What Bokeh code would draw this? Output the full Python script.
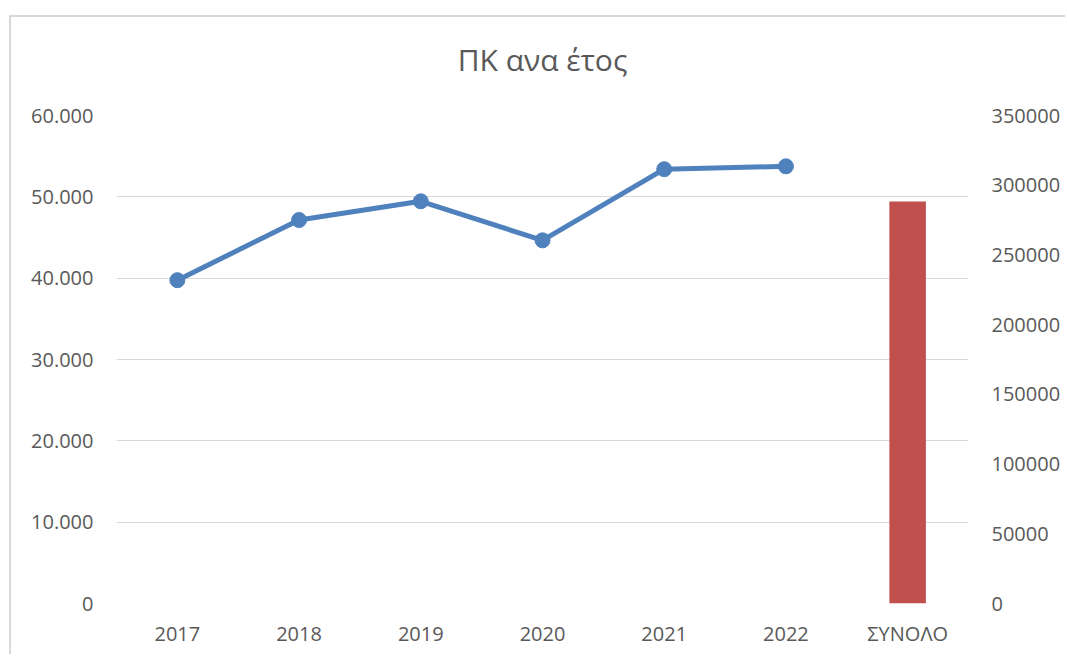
from bokeh.plotting import figure
from bokeh.models import (FactorRange, Range1d, LinearAxis, FixedTicker,
                          CustomJSTickFormatter, ColumnDataSource)
from bokeh.embed import file_html
from bokeh.resources import INLINE

categories = ["2017", "2018", "2019", "2020", "2021", "2022", "ΣΥΝΟΛΟ"]
years = ["2017", "2018", "2019", "2020", "2021", "2022"]
yearly_values = [39750, 47150, 49450, 44650, 53400, 53750]
total_label = ["ΣΥΝΟΛΟ"]
total_value = [288300]
left_ticks = [0, 10000, 20000, 30000, 40000, 50000, 60000]
right_ticks = [0, 50000, 100000, 150000, 200000, 250000, 300000, 350000]

FONT = "Open Sans"
TXT = "#595959"
GRID = "#d9d9d9"

p = figure(width=1065, height=654, x_range=FactorRange(*categories),
           y_range=Range1d(0, 60000), output_backend="svg",
           toolbar_location=None, title="ΠΚ ανα έτος",
           min_border_left=116, min_border_right=97,
           min_border_top=114, min_border_bottom=51)
p.extra_y_ranges = {"right": Range1d(0, 350000)}

# light chart-area border on the left and top edges, drawn by the page background
p.border_fill_color = None
p.background_fill_color = None
p.styles = {"background": "linear-gradient(#d9d9d9, #d9d9d9) 9px 15px / 2px 100% no-repeat, "
                          "linear-gradient(#d9d9d9, #d9d9d9) 9px 15px / 100% 2px no-repeat, "
                          "#ffffff"}

p.title.align = "center"
p.title.text_font = FONT
p.title.text_font_size = "30px"
p.title.text_font_style = "normal"
p.title.text_color = TXT
p.title.standoff = 72

p.outline_line_color = None

p.xgrid.grid_line_color = None
p.ygrid.grid_line_color = GRID
p.ygrid.grid_line_width = 1
p.ygrid.ticker = FixedTicker(ticks=left_ticks)

# left axis
yax = p.yaxis[0]
yax.ticker = FixedTicker(ticks=left_ticks)
yax.formatter = CustomJSTickFormatter(
    code='return tick.toFixed(0).replace(/\\B(?=(\\d{3})+(?!\\d))/g, ".");')
yax.axis_line_color = None
yax.major_tick_line_color = None
yax.minor_tick_line_color = None
yax.major_label_text_font = FONT
yax.major_label_text_font_size = "20px"
yax.major_label_text_color = TXT
yax.major_label_standoff = 17

# right axis
rax = LinearAxis(y_range_name="right", ticker=FixedTicker(ticks=right_ticks),
                 formatter=CustomJSTickFormatter(code="return tick.toFixed(0);"))
rax.axis_line_color = None
rax.major_tick_line_color = None
rax.minor_tick_line_color = None
rax.major_label_text_font = FONT
rax.major_label_text_font_size = "20px"
rax.major_label_text_color = TXT
rax.major_label_standoff = 17
p.add_layout(rax, "right")

# bottom axis
xax = p.xaxis[0]
xax.axis_line_color = None
xax.major_tick_line_color = None
xax.minor_tick_line_color = None
xax.major_label_text_font = FONT
xax.major_label_text_font_size = "20px"
xax.major_label_text_color = TXT
xax.major_label_standoff = 10

line_src = ColumnDataSource(dict(x=years, y=yearly_values))
p.line("x", "y", source=line_src, line_color="#4F81BD", line_width=5)
p.scatter("x", "y", source=line_src, size=15, fill_color="#4F81BD",
          line_color="#4F81BD")

bar_src = ColumnDataSource(dict(x=total_label, top=total_value))
p.vbar(x="x", top="top", width=0.3, source=bar_src, y_range_name="right",
       fill_color="#C0504D", line_color=None)

open("out.html", "w").write(file_html(p, INLINE))
